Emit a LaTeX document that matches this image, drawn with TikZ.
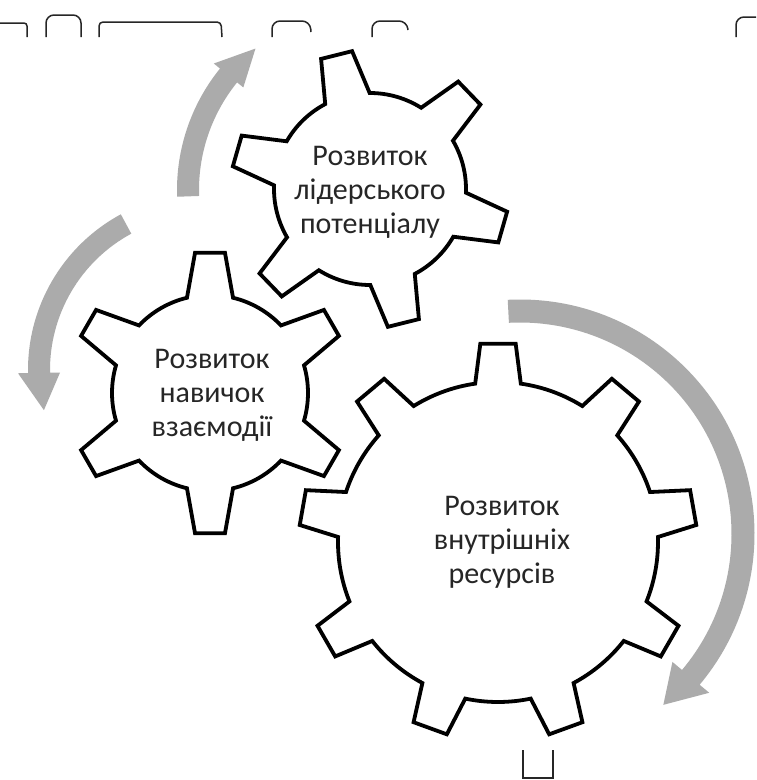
\documentclass[tikz,border=0pt]{standalone}
\usepackage{fontspec}
\setmainfont{Carlito}
\tikzset{
  gearline/.style={draw=black, line width=3.8pt, fill=white, line join=miter},
  arrowfill/.style={fill=black!33},
  lbl/.style={align=center, text=black!85, font=\fontsize{30}{34}\selectfont, inner sep=0pt},
  artifact/.style={draw=black!85, line width=1.5pt}
}
% #1 cx, #2 cy, #3 last index (N-1), #4 step angle, #5 r, #6 R, #7 alpha base, #8 alpha top, #9 phase
\newcommand{\mygear}[9]{%
  \begin{scope}[shift={(#1,#2)}]
    \draw[gearline] ({#9-#7}:#5) \foreach \k in {0,...,#3} {
      -- ({#9+\k*#4-#7}:#5) -- ({#9+\k*#4-#8}:#6) -- ({#9+\k*#4+#8}:#6) -- ({#9+\k*#4+#7}:#5)
      arc[start angle={#9+\k*#4+#7}, end angle={#9+(\k+1)*#4-#7}, radius=#5]
    } -- cycle;
  \end{scope}}
% #1 cx, #2 cy, #3 r, #4 half width, #5 tail angle, #6 head base angle, #7 tip angle, #8 head half width
\newcommand{\myarrow}[8]{%
  \begin{scope}[shift={(#1,#2)}]
    \fill[arrowfill] ({#5}:{#3+#4}) arc[start angle=#5, end angle=#6, radius={#3+#4}]
      -- ({#6}:{#3+#8}) -- ({#7}:{#3}) -- ({#6}:{#3-#8}) -- ({#6}:{#3-#4})
      arc[start angle=#6, end angle=#5, radius={#3-#4}] -- cycle;
  \end{scope}}
\begin{document}
\begin{tikzpicture}[x=1pt, y=-1pt]
  \useasboundingbox (0,0) rectangle (756,780);
  \fill[white] (0,0) rectangle (756,780);

  % curved arrows
  \myarrow{370}{190}{182}{11}{178}{219}{231}{19}
  \myarrow{205}{370}{166}{11}{241.6}{179}{166}{21}
  \myarrow{520}{534}{223}{11.5}{-93}{40}{50}{24}

  % gears
  \mygear{370}{189}{5}{60}{96}{139}{13.8}{6.6}{-104}
  \mygear{210}{393}{5}{60}{98}{141}{13.6}{6.1}{-90}
  \mygear{498}{542}{8}{40}{160}{199}{8.2}{5.1}{-90}

  % labels
  \node[lbl] (t1) at (370,192) {Розвиток\\лідерського\\потенціалу};
  \node[lbl] (t2) at (212,395) {Розвиток\\навичок\\взаємодії};
  \node[lbl] (t3) at (502,542) {Розвиток\\внутрішніх\\ресурсів};

  % cropped fragments at the edges
  \draw[artifact, rounded corners=3] (0,23) -- (27,23) -- (27,37);
  \draw[artifact, rounded corners=8] (46,37) -- (46,15) -- (81,15) -- (81,37);
  \draw[artifact, rounded corners=4] (99,37) -- (99,22) -- (221,22) -- (222,37);
  \draw[artifact, rounded corners=8] (272,37) -- (272,21) -- (310,21) -- (311,32);
  \draw[artifact, rounded corners=8] (372,37) -- (372,21) -- (407,21) -- (408,30);
  \draw[artifact, rounded corners=8] (736,37) -- (736,17) -- (756,17);
  \draw[artifact] (523,750) -- (523,778) -- (553,778) -- (553,750);
\end{tikzpicture}
\end{document}
